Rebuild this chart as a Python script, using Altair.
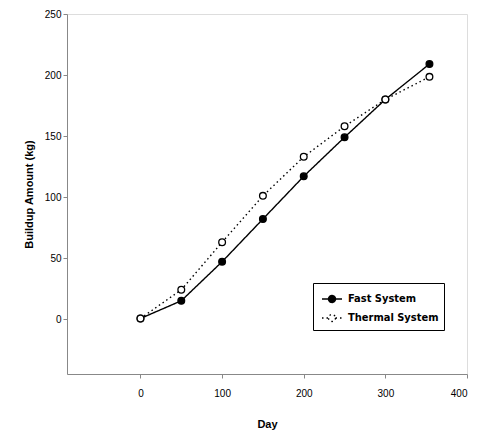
import altair as alt
import pandas as pd

days = [0, 50, 100, 150, 200, 250, 300, 354]
fast = [0.5, 15, 47, 82, 117, 149, 180, 209]
thermal = [0.5, 24, 63, 101, 133, 158, 180, 198.5]
series = ["Fast System", "Thermal System"]

rows = []
for d, f, t in zip(days, fast, thermal):
    rows.append({"Day": d, "Value": f, "System": series[0], "order": 0})
    rows.append({"Day": d, "Value": t, "System": series[1], "order": 1})
df = pd.DataFrame(rows)

FONT = "Liberation Sans Narrow, DejaVu Sans Condensed, Liberation Sans, sans-serif"

x = alt.X("Day:Q", title="Day",
          scale=alt.Scale(domain=[-90, 400], nice=False, zero=False),
          axis=alt.Axis(values=[0, 100, 200, 300, 400], grid=False, tickSize=4,
                        labelPadding=10, titlePadding=20))
y = alt.Y("Value:Q", title="Buildup Amount (kg)",
          scale=alt.Scale(domain=[-45, 250], nice=False, zero=False),
          axis=alt.Axis(values=[0, 50, 100, 150, 200, 250], grid=False, tickSize=4,
                        labelPadding=2, titlePadding=10))

legend_path = ("M-1,0H-0.35 M0.35,0H1 "
               "M0.35,0A0.35,0.35,0,1,1,-0.35,0A0.35,0.35,0,1,1,0.35,0")

def leg():
    return alt.Legend(title=None, orient="none", legendX=246, legendY=269,
                      strokeColor="black", fillColor="white", padding=5,
                      symbolType=legend_path, symbolSize=400,
                      symbolStrokeColor="black", symbolStrokeWidth=1.4,
                      labelFont=FONT, labelFontSize=11, labelFontWeight="bold",
                      labelColor="black", rowPadding=1, symbolOffset=3,
                      labelOffset=5, labelLimit=200)

lines = alt.Chart(df).mark_line(color="black", strokeWidth=1.4).encode(
    x=x, y=y,
    detail="System:N",
    strokeDash=alt.StrokeDash("System:N",
                              scale=alt.Scale(domain=series, range=[[1, 0], [1.5, 3]]),
                              legend=leg()),
)

points = alt.Chart(df).mark_point(shape="circle", size=45, stroke="black",
                                  strokeWidth=1.3, opacity=1).encode(
    x=x, y=y,
    fill=alt.Fill("System:N",
                  scale=alt.Scale(domain=series, range=["black", "white"]),
                  legend=leg()),
    order=alt.Order("order:Q"),
)

chart = alt.layer(lines, points).properties(
    width=400, height=360,
    autosize=alt.AutoSizeParams(type="none"),
    padding={"left": 67, "top": 14, "right": 16, "bottom": 63},
).configure_view(
    stroke="black", strokeWidth=1.2
).configure_axis(
    domainColor="black", tickColor="black", labelColor="black", titleColor="black",
    labelFont=FONT, titleFont=FONT, labelFontSize=12, titleFontSize=13,
    labelFontWeight="bold", titleFontWeight="bold", domainWidth=1.2, tickWidth=1.2,
).configure(background="white")

chart.save("out.html", embed_options={"renderer": "svg", "actions": False})
